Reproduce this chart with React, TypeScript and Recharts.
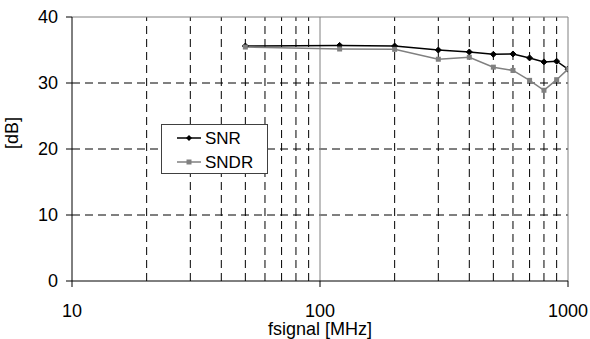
import React from "react";
import {
  LineChart,
  Line,
  XAxis,
  YAxis,
  CartesianGrid,
  ReferenceLine,
} from "recharts";

const freqs = [50, 120, 200, 300, 400, 500, 600, 700, 800, 900, 1000];
const snr = [35.6, 35.7, 35.6, 35.0, 34.7, 34.35, 34.4, 33.8, 33.2, 33.3, 32.1];
const sndr = [35.45, 35.15, 35.1, 33.6, 33.9, 32.4, 31.9, 30.4, 28.9, 30.5, 32.1];
const xTicks = [10, 100, 1000];
const yTicks = [0, 10, 20, 30, 40];
const minorX = [20, 30, 40, 50, 60, 70, 80, 90, 200, 300, 400, 500, 600, 700, 800, 900];
const seriesNames = ["SNR", "SNDR"];

const data = freqs.map((f, i) => ({ f, snr: snr[i], sndr: sndr[i] }));

const FONT = "'Liberation Sans', Arial, sans-serif";

const Diamond = (props: any) => {
  const { cx, cy } = props;
  if (cx == null || cy == null) return null;
  const r = 3;
  return (
    <polygon
      points={`${cx},${cy - r} ${cx + r},${cy} ${cx},${cy + r} ${cx - r},${cy}`}
      fill="#000"
      stroke="#000"
    />
  );
};

const Square = (props: any) => {
  const { cx, cy } = props;
  if (cx == null || cy == null) return null;
  const r = 2.5;
  return <rect x={cx - r} y={cy - r} width={2 * r} height={2 * r} fill="#808080" />;
};

const LegendBox = () => (
  <svg
    width={108}
    height={51}
    style={{ position: "absolute", left: 161, top: 124, display: "block" }}
  >
    <rect x={0.5} y={0.5} width={106} height={49} fill="#fff" stroke="#404040" />
    <line x1={16} y1={14} x2={40} y2={14} stroke="#000" strokeWidth={1.5} />
    <polygon points="28,11 31,14 28,17 25,14" fill="#000" />
    <text x={44} y={20} fontFamily={FONT} fontSize={17} fill="#000">{seriesNames[0]}</text>
    <line x1={16} y1={38} x2={40} y2={38} stroke="#808080" strokeWidth={1.5} />
    <rect x={25.5} y={35.5} width={5} height={5} fill="#808080" />
    <text x={44} y={44} fontFamily={FONT} fontSize={17} fill="#000">{seriesNames[1]}</text>
  </svg>
);

export default function App() {
  return (
    <div style={{ position: "absolute", left: 0, top: 0, width: 590, height: 339, background: "#fff" }}>
      <LineChart
        width={590}
        height={339}
        data={data}
        margin={{ top: 17, right: 22, bottom: 0, left: 0 }}
      >
        <CartesianGrid
          vertical={false}
          stroke="#000"
          strokeDasharray="8 5"
          horizontalValues={[10, 20, 30]}
        />
        {minorX.map((v) => (
          <ReferenceLine key={v} x={v} stroke="#000" strokeDasharray="8 5" />
        ))}
        <ReferenceLine x={100} stroke="#808080" />
        <ReferenceLine x={1000} stroke="#808080" />
        <ReferenceLine y={40} stroke="#808080" />
        <XAxis
          dataKey="f"
          type="number"
          scale="log"
          domain={[10, 1000]}
          ticks={xTicks}
          allowDataOverflow
          stroke="#000"
          tickLine={{ stroke: "#000" }}
          tickSize={6}
          tickMargin={17}
          height={58}
          tick={{ fill: "#000", fontFamily: FONT, fontSize: 18 }}
          label={{
            value: "fsignal [MHz]",
            position: "insideBottom",
            offset: 4,
            fill: "#000",
            fontFamily: FONT,
            fontSize: 18,
          }}
        />
        <YAxis
          type="number"
          domain={[0, 40]}
          ticks={yTicks}
          stroke="#000"
          tickSize={6}
          tickMargin={8}
          width={72}
          tick={{ fill: "#000", fontFamily: FONT, fontSize: 18 }}
          label={{
            value: "[dB]",
            angle: -90,
            position: "insideLeft",
            offset: 12,
            fill: "#000",
            fontFamily: FONT,
            fontSize: 18,
          }}
        />
        <Line
          dataKey="snr"
          name={seriesNames[0]}
          stroke="#000"
          strokeWidth={1.5}
          dot={<Diamond />}
          isAnimationActive={false}
        />
        <Line
          dataKey="sndr"
          name={seriesNames[1]}
          stroke="#808080"
          strokeWidth={1.5}
          dot={<Square />}
          isAnimationActive={false}
        />
      </LineChart>
      <LegendBox />
    </div>
  );
}
